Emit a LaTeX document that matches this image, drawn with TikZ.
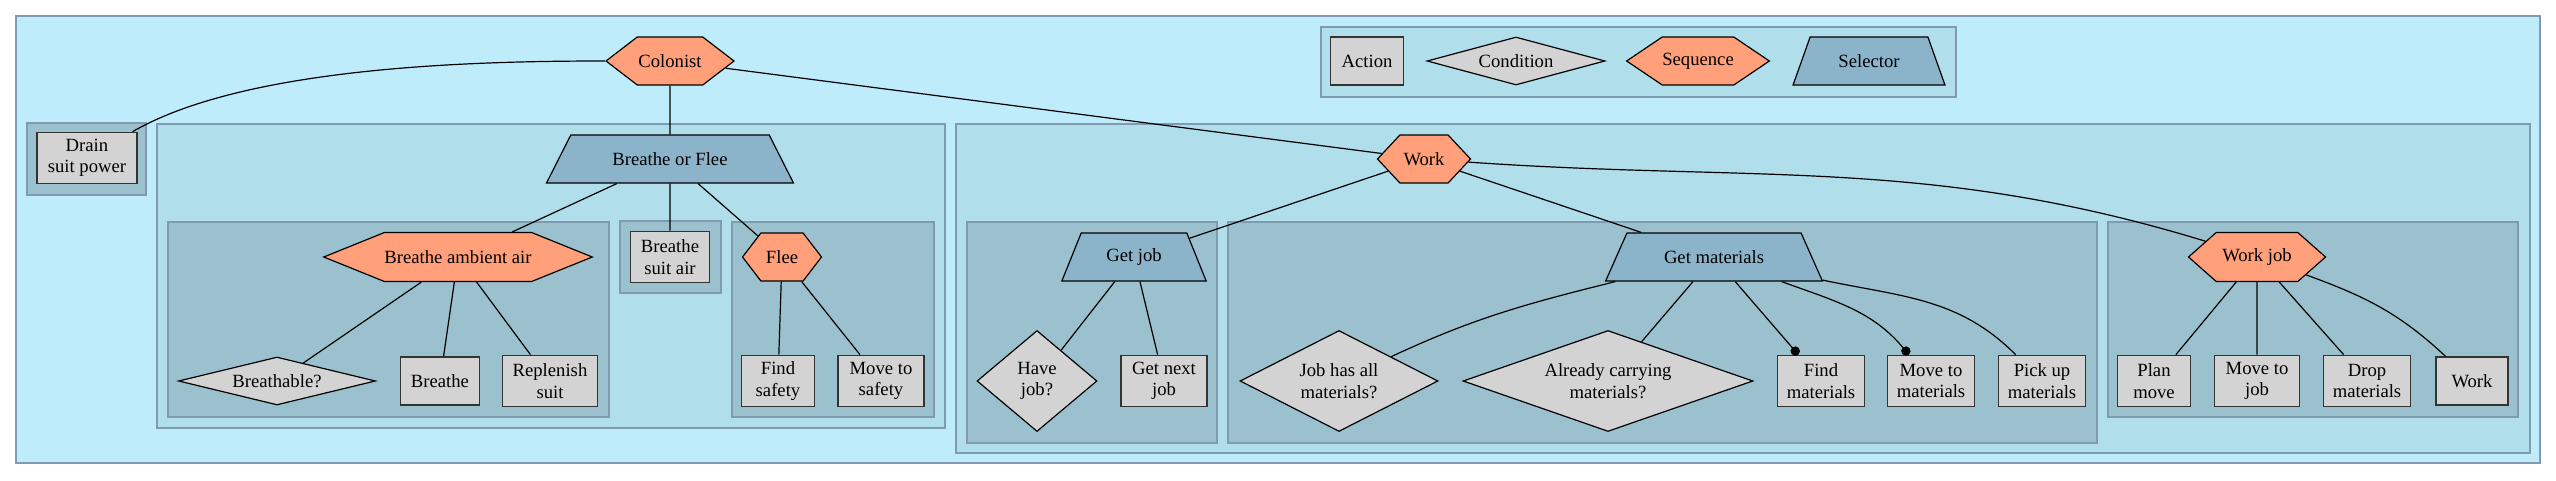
\documentclass[tikz,border=0pt]{standalone}
\usepackage{fontspec}
\setmainfont{Liberation Serif}
\usetikzlibrary{shapes.geometric, shapes.symbols}
\usetikzlibrary{arrows.meta}
\definecolor{outerbg}{RGB}{191,236,251}
\definecolor{groupbg}{RGB}{176,222,235}
\definecolor{subbg}{RGB}{155,192,206}
\definecolor{groupline}{RGB}{128,155,175}
\definecolor{salmon}{RGB}{255,160,122}
\definecolor{selblue}{RGB}{139,180,203}
\definecolor{actgrey}{RGB}{211,211,211}

\begin{document}
\begin{tikzpicture}[x=0.75pt, y=0.75pt,
    font=\fontsize{14}{16}\selectfont,
    wh/.style 2 args={minimum width=#1*0.75pt, minimum height=#2*0.75pt},
    group/.style={draw=groupline, line width=1.1pt},
    action/.style={draw=black!80, line width=1.3pt, fill=actgrey, inner sep=2pt, align=center},
    condition/.style={diamond, draw, line width=0.9pt, fill=actgrey, inner sep=0pt, align=center},
    sequence/.style={signal, signal to=west and east, signal pointer angle=#1, draw, line width=0.9pt, fill=salmon, inner sep=0pt},
    selector/.style={trapezium, trapezium stretches=true, trapezium left angle=#1, trapezium right angle=#1, draw, line width=0.9pt, fill=selblue, inner sep=0pt},
    link/.style={line width=0.9pt},
    dotlink/.style={line width=0.9pt, -{Circle[length=7pt]}}]
    \useasboundingbox (0,0) rectangle (2556,480);

    % groups
    \draw[group, fill=outerbg] (16,17) rectangle (2540,464);
    \draw[group, fill=groupbg] (1321,383) rectangle (1956,453);
    \draw[group, fill=subbg] (27,285) rectangle (146,357);
    \draw[group, fill=groupbg] (157,52) rectangle (945,356);
    \draw[group, fill=subbg] (168,63) rectangle (609,258);
    \draw[group, fill=subbg] (620,187) rectangle (721,259);
    \draw[group, fill=subbg] (732,63) rectangle (934,258);
    \draw[group, fill=groupbg] (956,27) rectangle (2530,356);
    \draw[group, fill=subbg] (967,37) rectangle (1217,258);
    \draw[group, fill=subbg] (1228,37) rectangle (2097,258);
    \draw[group, fill=subbg] (2108,63) rectangle (2518,258);

    % legend
    \node[action, wh={73}{48}] (legaction) at (1367,419) {Action};
    \node[condition, wh={178}{48}, aspect=3.7] (legcondition) at (1516,419) {Condition};
    \node[sequence=68, wh={142}{48}] (legsequence) at (1698,419) {Sequence};
    \node[selector=56, wh={152}{48}] (legselector) at (1869,419) {Selector};

    \node[sequence=75, wh={128}{48}] (colonist) at (670,419) {Colonist};
    \node[action, wh={100}{51}] (drain) at (87,322) {Drain\\suit power};

    \node[selector=43, wh={247}{48}] (bof) at (670,321) {Breathe or Flee};
    \node[sequence=44, wh={245}{49}] (ambient) at (458,223) {Breathe ambient air};
    \node[condition, wh={197}{48}, aspect=4.1] (breathable) at (277,99) {Breathable?};
    \node[action, wh={79}{48}] (breathe) at (440,99) {Breathe};
    \node[action, wh={95}{51}] (replenish) at (550,99) {Replenish\\suit};
    \node[action, wh={79}{51}] (suitair) at (670,223) {Breathe\\suit air};
    \node[sequence=105, wh={79}{48}] (flee) at (782,223) {Flee};
    \node[action, wh={73}{51}] (findsafety) at (778,99) {Find\\safety};
    \node[action, wh={86}{51}] (movesafety) at (881,99) {Move to\\safety};

    \node[sequence=94, wh={93}{48}] (work) at (1424,321) {Work};
    \node[selector=59, wh={145}{48}] (getjob) at (1134,223) {Get job};
    \node[condition, wh={120}{101}, aspect=1.2] (havejob) at (1037,99) {Have\\job?};
    \node[action, wh={86}{51}] (nextjob) at (1164,99) {Get next\\job};
    \node[selector=47, wh={217}{48}] (getmat) at (1714,223) {Get materials};
    \node[condition, wh={198}{101}, aspect=2] (hasall) at (1339,99) {Job has all\\materials?};
    \node[condition, wh={290}{101}, aspect=2.9] (carrying) at (1608,99) {Already carrying\\materials?};
    \node[action, wh={87}{51}] (findmat) at (1821,99) {Find\\materials};
    \node[action, wh={87}{51}] (movemat) at (1931,99) {Move to\\materials};
    \node[action, wh={87}{51}] (pickup) at (2042,99) {Pick up\\materials};
    \node[sequence=83, wh={137}{49}] (workjob) at (2257,223) {Work job};
    \node[action, wh={73}{51}] (planmove) at (2154,99) {Plan\\move};
    \node[action, wh={85}{51}] (movejob) at (2257,99) {Move to\\job};
    \node[action, wh={87}{51}] (dropmat) at (2367,99) {Drop\\materials};
    \node[action, wh={72}{48}] (dowork) at (2472,99) {Work};

    % links
    \draw[link] (colonist) to[out=180, in=30, looseness=0.7] (drain);
    \draw[link] (colonist) -- (bof);
    \draw[link] (colonist) -- (work);
    \draw[link] (bof) -- (ambient);
    \draw[link] (bof) -- (suitair);
    \draw[link] (bof) -- (flee);
    \draw[link] (ambient) -- (breathable);
    \draw[link] (ambient) -- (breathe);
    \draw[link] (ambient) -- (replenish);
    \draw[link] (flee) -- (findsafety);
    \draw[link] (flee) -- (movesafety);
    \draw[link] (work) -- (getjob);
    \draw[link] (work) -- (getmat);
    \draw[link] (work) to[out=-4, in=163] (workjob);
    \draw[link] (getjob) -- (havejob);
    \draw[link] (getjob) -- (nextjob);
    \draw[link] (getmat) to[out=194, in=25] (hasall);
    \draw[link] (getmat) -- (carrying);
    \draw[dotlink] (getmat) -- (findmat);
    \draw[dotlink] (getmat) to[out=-20, in=130] (movemat);
    \draw[link] (getmat) to[out=-12, in=135] (pickup);
    \draw[link] (workjob) -- (planmove);
    \draw[link] (workjob) -- (movejob);
    \draw[link] (workjob) -- (dropmat);
    \draw[link] (workjob) to[out=-20, in=137] (dowork);
\end{tikzpicture}
\end{document}
